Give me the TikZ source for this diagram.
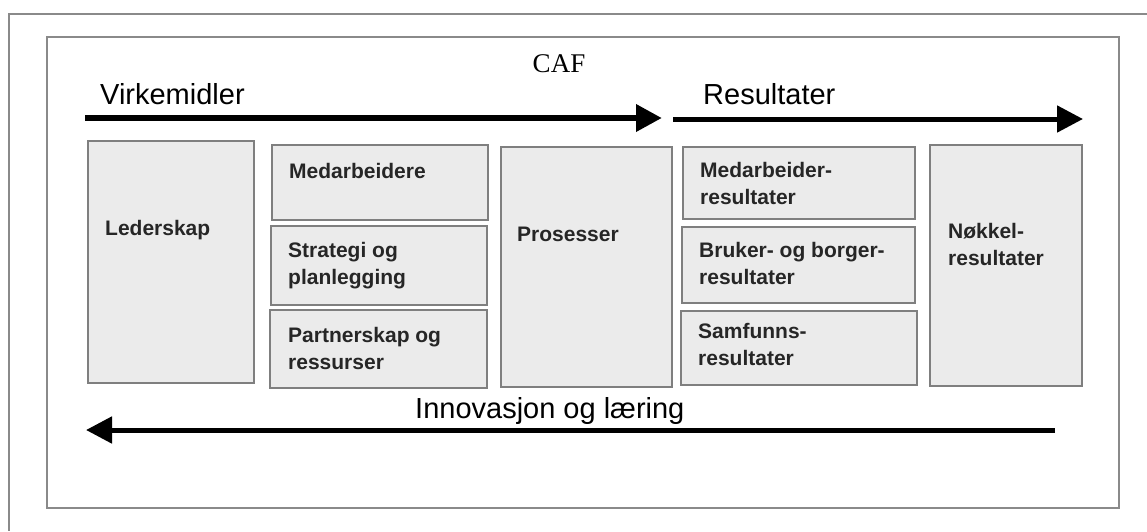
\documentclass[tikz,border=0pt]{standalone}
\usepackage{fontspec}
\setmainfont{Liberation Sans}
\newfontfamily\caffont{Liberation Serif}
\usetikzlibrary{positioning}
\usetikzlibrary{arrows.meta}

\definecolor{areafill}{HTML}{EBEBEB}
\definecolor{areaedge}{HTML}{7F7F7F}
\definecolor{frameedge}{HTML}{8A8A8A}

\begin{document}
\begin{tikzpicture}
  [ x=1pt, y=-1pt
  , area/.style 2 args={ draw=areaedge
                       , fill=areafill
                       , line width=1.8pt
                       , minimum width=#1
                       , minimum height=#2
                       , anchor=north west
                       , inner sep=0pt
                       }
  , areatext/.style={ inner sep=0pt
                    , align=left
                    , text=black!85
                    , font=\bfseries\fontsize{21}{27.5}\selectfont
                    }
  , heading/.style={ inner sep=0pt
                   , anchor=base west
                   , font=\fontsize{29}{34}\selectfont
                   }
  , flow/.style={ -{Triangle[length=26pt,width=26pt]}
                , line width=#1
                }
  ]

  \useasboundingbox (0,0) rectangle (1147,531);

  % frames
  \draw [frameedge, line width=1.5pt] (1147,14) -- (9,14) -- (9,531);
  \draw [frameedge, line width=1.5pt] (47,37) rectangle (1119,508);

  % headings
  \node (caf) [inner sep=0pt, anchor=base, font=\caffont\fontsize{27}{32}\selectfont]
    at (559,72) {CAF};
  \node (means) [heading] at (100,104) {Virkemidler};
  \node (results) [heading] at (703,104) {Resultater};
  \node (learning) [heading] at (415,418) {Innovasjon og læring};

  % areas
  \node (lead)    [area={166pt}{242pt}] at (87,140)  {};
  \node (staff)   [area={216pt}{75pt}]  at (271,144) {};
  \node (plan)    [area={216pt}{79pt}]  at (270,225) {};
  \node (partner) [area={217pt}{78pt}]  at (269,309) {};
  \node (proc)    [area={171pt}{240pt}] at (500,146) {};
  \node (staffres)[area={232pt}{72pt}]  at (682,146) {};
  \node (userres) [area={233pt}{76pt}]  at (681,226) {};
  \node (socres)  [area={236pt}{74pt}]  at (680,310) {};
  \node (keyres)  [area={152pt}{241pt}] at (929,144) {};

  \node (lead text)     [areatext, below right=80pt and 18pt of lead.north west] {Lederskap};
  \node (staff text)    [areatext, below right=19pt and 18pt of staff.north west] {Medarbeidere};
  \node (plan text)     [areatext, below right=17pt and 18pt of plan.north west] {Strategi og\\planlegging};
  \node (partner text)  [areatext, below right=18pt and 19pt of partner.north west] {Partnerskap og\\ressurser};
  \node (proc text)     [areatext, below right=81pt and 17pt of proc.north west] {Prosesser};
  \node (staffres text) [areatext, below right=16pt and 18pt of staffres.north west] {Medarbeider-\\resultater};
  \node (userres text)  [areatext, below right=16pt and 18pt of userres.north west] {Bruker- og borger-\\resultater};
  \node (socres text)   [areatext, below right=13pt and 18pt of socres.north west] {Samfunns-\\resultater};
  \node (keyres text)   [areatext, below right=79pt and 19pt of keyres.north west] {Nøkkel-\\resultater};

  % flows
  \coordinate (means start)    at (85,118);
  \coordinate (means end)      at (662,118);
  \coordinate (results start)  at (673,119);
  \coordinate (results end)    at (1083,119);
  \coordinate (learning start) at (1055,430);
  \coordinate (learning end)   at (86,430);

  \draw [flow=6.5pt] (means start) -- (means end);
  \draw [flow=5pt] (results start) -- (results end);
  \draw [flow=5pt] (learning start) -- (learning end);

\end{tikzpicture}
\end{document}
